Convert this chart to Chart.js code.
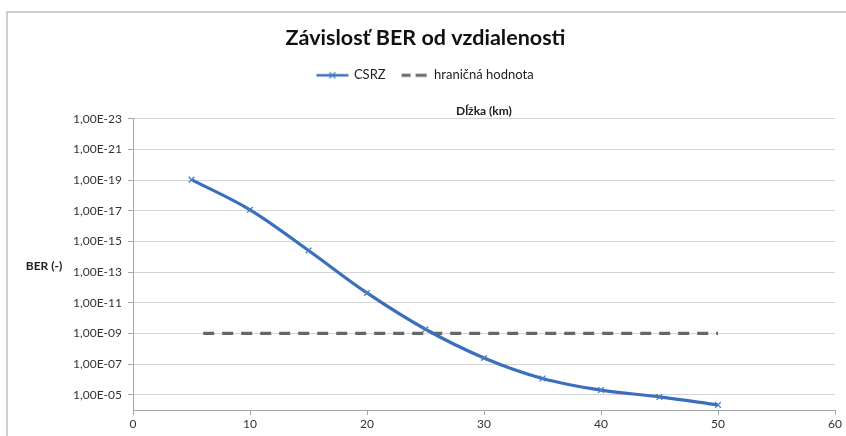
<!DOCTYPE html>
<html><head><meta charset="utf-8">
<script src="https://cdn.jsdelivr.net/npm/chart.js@4.4.1/dist/chart.umd.min.js"></script>
<style>html,body{margin:0;padding:0;background:#fff}</style>
</head><body><canvas id="c" width="846" height="436"></canvas>
<script>
const chartTitle = 'Závislosť BER od vzdialenosti';
const xAxisTitle = 'Dĺžka (km)';
const yAxisTitle = 'BER (-)';
const seriesNames = ['CSRZ', 'hraničná hodnota'];
const distances = [5, 10, 15, 20, 25, 30, 35, 40, 45, 50];
const csrzBER = [9.3e-20, 8.7e-18, 3.9e-15, 2.3e-12, 5.4e-10, 4.0e-8, 8.7e-7, 5.0e-6, 1.4e-5, 4.7e-5];
const limitDistances = [6, 50];
const limitBER = [1e-9, 1e-9];
const yTickValues = [1e-23, 1e-21, 1e-19, 1e-17, 1e-15, 1e-13, 1e-11, 1e-9, 1e-7, 1e-5];
const yTickLabels = ['1,00E-23', '1,00E-21', '1,00E-19', '1,00E-17', '1,00E-15', '1,00E-13', '1,00E-11', '1,00E-09', '1,00E-07', '1,00E-05'];
const xTickValues = [0, 10, 20, 30, 40, 50, 60];
const xTickLabels = ['0', '10', '20', '30', '40', '50', '60'];

const FONT = 'Lato';
const BLUE = '#3b6fbe';
const GREY = '#666666';

function legendImg(kind) {
  const c = document.createElement('canvas');
  c.width = 34; c.height = 12;
  const g = c.getContext('2d');
  if (kind === 0) {
    g.strokeStyle = BLUE; g.lineWidth = 2.5;
    g.beginPath(); g.moveTo(1, 6); g.lineTo(33, 6); g.stroke();
    g.lineWidth = 1.2; g.strokeStyle = '#4a7cc4';
    g.beginPath(); g.moveTo(14, 3); g.lineTo(20, 9); g.moveTo(20, 3); g.lineTo(14, 9); g.stroke();
  } else {
    g.strokeStyle = GREY; g.lineWidth = 3;
    g.beginPath(); g.moveTo(6, 6); g.lineTo(15, 6); g.moveTo(20, 6); g.lineTo(31, 6); g.stroke();
  }
  return c;
}
const legendImgs = [legendImg(0), legendImg(1)];

const borderPlugin = {
  id: 'extras',
  beforeDraw(chart) {
    const ctx = chart.ctx;
    ctx.save();
    ctx.strokeStyle = '#bdbdbd'; ctx.lineWidth = 1.5;
    ctx.strokeRect(7, 12, 900, 500);
    ctx.restore();
  },
  afterDraw(chart) {
    const ctx = chart.ctx;
    ctx.save();
    ctx.font = 'bold 12px ' + FONT;
    ctx.fillStyle = '#222';
    ctx.textAlign = 'center'; ctx.textBaseline = 'middle';
    ctx.fillText(yAxisTitle, 44, 266);
    ctx.restore();
  }
};

new Chart(document.getElementById('c'), {
  type: 'line',
  data: {
    datasets: [{
      label: seriesNames[0],
      data: distances.map((d, i) => ({ x: d, y: csrzBER[i] })),
      borderColor: BLUE, backgroundColor: BLUE, borderWidth: 3.2,
      pointStyle: 'crossRot', pointRadius: 4, pointBorderWidth: 1.3,
      pointBorderColor: '#4a7cc4', tension: 0.35, xAxisID: 'x', yAxisID: 'y'
    }, {
      label: seriesNames[1],
      data: limitDistances.map((d, i) => ({ x: d, y: limitBER[i] })),
      borderColor: GREY, backgroundColor: GREY, borderWidth: 3.2,
      borderDash: [11, 8], pointRadius: 0, xAxisID: 'x', yAxisID: 'y'
    }]
  },
  options: {
    responsive: false, animation: false, devicePixelRatio: 1,
    layout: { padding: { left: 16, right: 11, top: 0, bottom: 0 } },
    plugins: {
      title: {
        display: true, text: chartTitle, color: '#111',
        font: { family: FONT, size: 21.5, weight: 'bold' },
        padding: { top: 25, bottom: 6 }
      },
      legend: {
        display: true,
        labels: {
          font: { family: FONT, size: 13 }, color: '#222',
          usePointStyle: true, pointStyleWidth: 30, boxHeight: 12, padding: 12,
          generateLabels(chart) {
            const items = Chart.defaults.plugins.legend.labels.generateLabels(chart);
            items.forEach((it, i) => { it.pointStyle = legendImgs[i]; });
            return items;
          }
        }
      },
      tooltip: { enabled: false }
    },
    scales: {
      x: {
        type: 'linear', position: 'bottom', min: 0, max: 60,
        afterBuildTicks(s) { s.ticks = xTickValues.map(v => ({ value: v })); },
        afterFit(s) { s.height = 26; },
        ticks: { font: { family: FONT, size: 12 }, color: '#333', padding: 2, maxRotation: 0,
          callback: (v, i) => xTickLabels[i] },
        grid: { drawOnChartArea: false, drawTicks: true, tickLength: 5, color: '#a6a6a6' },
        border: { display: true, color: '#a6a6a6', width: 1 }
      },
      x2: {
        type: 'linear', position: 'top', min: 0, max: 60,
        afterFit(s) { s.height = 27; },
        ticks: { display: false },
        grid: { display: false, drawTicks: false },
        border: { display: false },
        title: { display: true, text: xAxisTitle, color: '#222',
          font: { family: FONT, size: 12, weight: 'bold' }, padding: { top: 12, bottom: 0 } }
      },
      y: {
        type: 'logarithmic', reverse: true, min: 1e-23, max: 1e-4,
        afterBuildTicks(s) { s.ticks = yTickValues.map(v => ({ value: v })); },
        afterFit(s) { s.width = 117; },
        ticks: { font: { family: FONT, size: 12 }, color: '#333', padding: 6,
          callback: (v, i) => yTickLabels[i] },
        grid: { color: '#d4d4d4', lineWidth: 1, tickLength: 5, tickColor: '#a6a6a6' },
        border: { display: true, color: '#a6a6a6', width: 1 }
      }
    }
  },
  plugins: [borderPlugin]
});
</script>
</body></html>
